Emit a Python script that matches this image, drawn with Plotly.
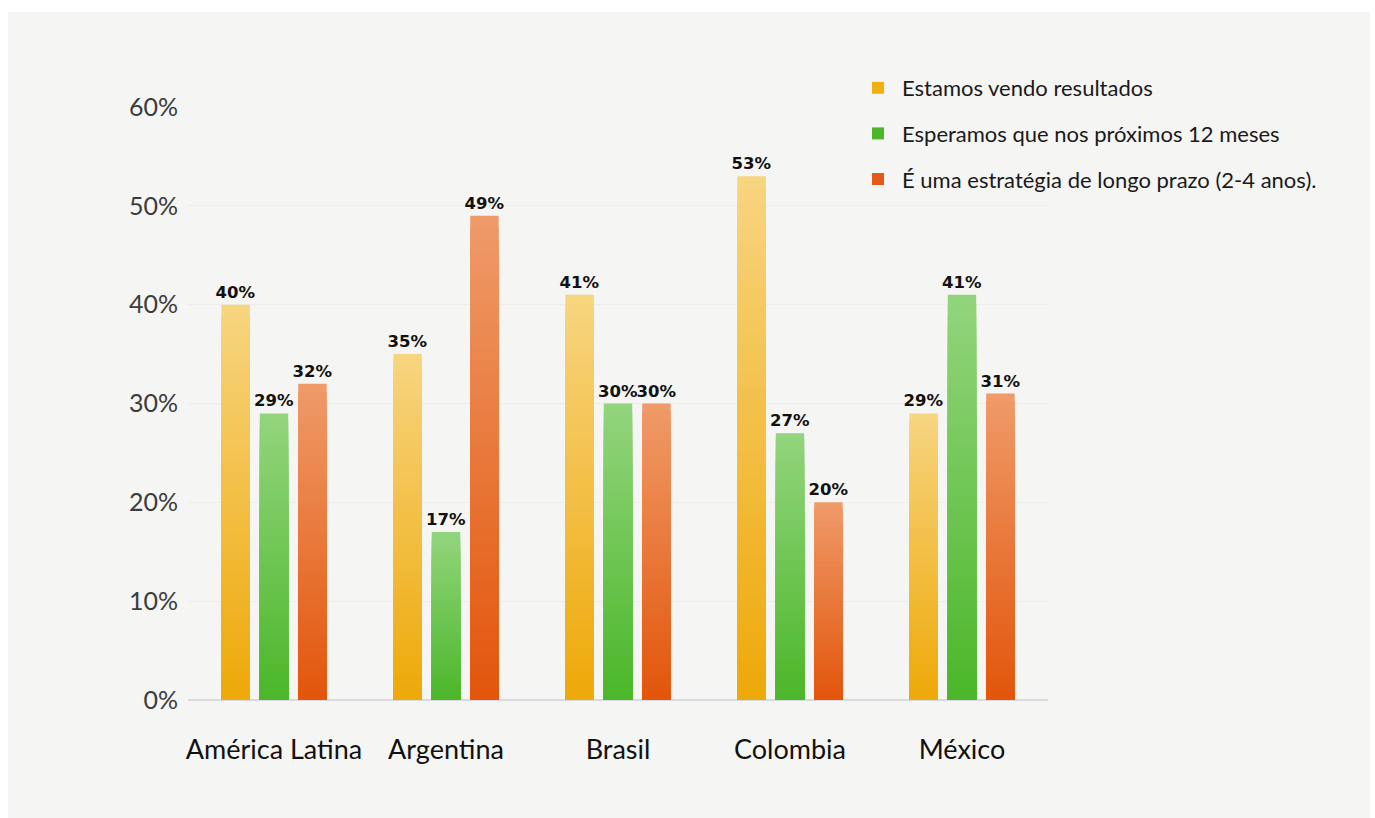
import plotly.graph_objects as go

# Data
categories = ["América Latina", "Argentina", "Brasil", "Colombia", "México"]
series_names = [
    "Estamos vendo resultados",
    "Esperamos que nos próximos 12 meses",
    "É uma estratégia de longo prazo (2-4 anos).",
]
vendo_resultados = [40, 35, 41, 53, 29]
proximos_12_meses = [29, 17, 30, 27, 41]
longo_prazo = [32, 49, 30, 20, 31]
series_values = [vendo_resultados, proximos_12_meses, longo_prazo]
y_ticks = [0, 10, 20, 30, 40, 50, 60]
y_tick_labels = [f"{t}%" for t in y_ticks]

# Styling: (top colour, bottom colour, legend swatch)
palette = [
    ((247, 212, 126), (238, 169, 10), "#efb010"),
    ((146, 212, 124), (76, 183, 42), "#4db52a"),
    ((239, 154, 104), (227, 86, 12), "#e5581a"),
]
STEPS = 40


def mix(c1, c2, t):
    return "rgb({},{},{})".format(*[round(a + (b - a) * t) for a, b in zip(c1, c2)])


fig = go.Figure()

for s, (name, values) in enumerate(zip(series_names, series_values)):
    top, bottom, swatch = palette[s]
    # Vertical gradient: overlapping bars, each shorter and darker than the last
    for k in range(STEPS):
        frac = (STEPS - k) / STEPS
        fig.add_trace(go.Bar(
            x=categories,
            y=[v * frac for v in values],
            offsetgroup=str(s),
            legendgroup=str(s),
            showlegend=False,
            marker=dict(color=mix(top, bottom, k / (STEPS - 1)), line=dict(width=0)),
            text=[f"{v}%" for v in values] if k == 0 else None,
            textposition="outside" if k == 0 else "none",
            textfont=dict(family="DejaVu Sans", size=16.5, color="#111111", weight="bold"),
            cliponaxis=False,
            constraintext="none",
            hoverinfo="skip",
        ))
    # Legend entry
    fig.add_trace(go.Bar(
        x=categories,
        y=[None] * len(categories),
        name=name,
        offsetgroup=str(s),
        legendgroup=str(s),
        showlegend=True,
        marker=dict(color=swatch, line=dict(width=0)),
    ))

W, H = 1375, 818
L, R, T, B = 188, 327, 107, 118
pw, ph = W - L - R, H - T - B


def px_x(p):
    return (p - L) / pw


def px_y(p):
    return (H - B - p) / ph


fig.add_shape(
    type="rect", xref="paper", yref="paper",
    x0=px_x(8), x1=px_x(1370), y0=px_y(818), y1=px_y(12),
    fillcolor="#f5f5f3", line=dict(width=0), layer="below",
)

fig.update_layout(
    width=W, height=H,
    margin=dict(l=L, r=R, t=T, b=B, autoexpand=False),
    paper_bgcolor="#ffffff",
    plot_bgcolor="#f5f5f3",
    barmode="group",
    bargap=0.33,
    bargroupgap=0.26,
    showlegend=True,
    legend=dict(
        x=px_x(854), y=px_y(67), xanchor="left", yanchor="top",
        bgcolor="rgba(0,0,0,0)",
        font=dict(family="Lato", size=22, color="#1a1a1a"),
        traceorder="grouped",
        tracegroupgap=14,
        itemwidth=38,
        itemclick=False,
    ),
    xaxis=dict(
        range=[-0.5, 4.5],
        showgrid=False,
        showline=False,
        zeroline=False,
        ticks="",
        ticklabelstandoff=31,
        tickfont=dict(family="Lato", size=27, color="#111111"),
    ),
    yaxis=dict(
        range=[0, 60],
        tickmode="array",
        tickvals=y_ticks,
        ticktext=y_tick_labels,
        showgrid=True,
        gridcolor="#ededeb",
        gridwidth=1,
        zeroline=True,
        zerolinecolor="#d8dadf",
        zerolinewidth=1.5,
        showline=False,
        ticks="",
        ticklabelstandoff=9,
        tickfont=dict(family="Lato", size=25, color="#3c3c3c"),
    ),
)

fig.write_html("out.html")
